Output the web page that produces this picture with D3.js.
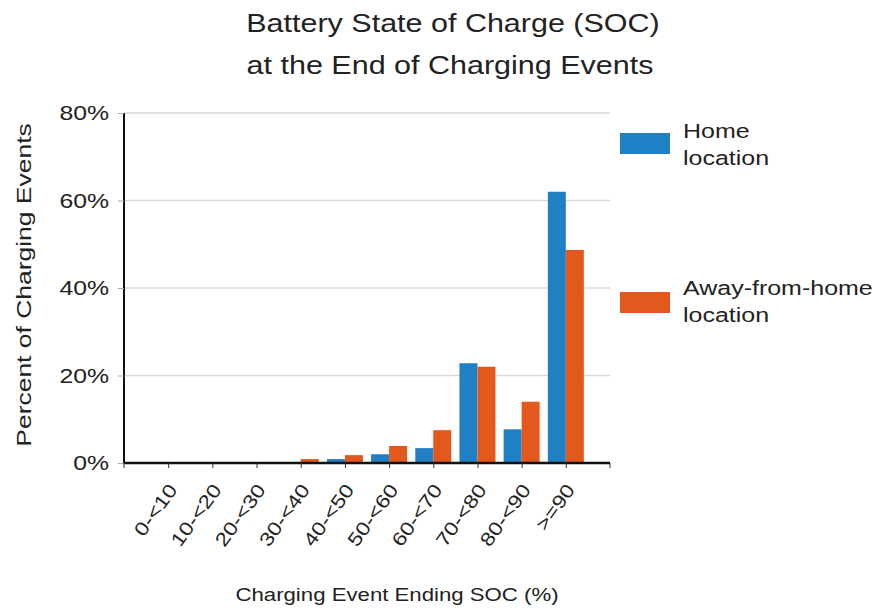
<!DOCTYPE html>
<html><head><meta charset="utf-8">
<script src="https://cdn.jsdelivr.net/npm/d3@7"></script>
<style>body{margin:0;background:#fff}text{font-family:"Liberation Sans",Arial,sans-serif;fill:#222}</style>
</head><body><svg id="c" width="883" height="613"></svg>
<script>
const categories=["0-<10","10-<20","20-<30","30-<40","40-<50","50-<60","60-<70","70-<80","80-<90",">=90"];
const homeValues=[0,0,0,0.1,0.9,2.0,3.4,22.8,7.7,62.0];
const awayValues=[0,0,0.1,0.9,1.8,3.9,7.5,22.0,14.0,48.7];
const yTicks=[0,20,40,60,80];
const seriesNames=["Home location","Away-from-home location"];
const colors=["#1f80c6","#e2581d"];

const svg=d3.select("#c");
const x0=124,x1=610,yB=463,yT=113;
const x=d3.scalePoint().domain(categories).range([x0,x1]).padding(1);
const y=d3.scaleLinear().domain([0,80]).range([yB,yT]);
const bw=18;
const SX=1.2;

// gridlines
svg.append("g").selectAll("line").data(yTicks.slice(1)).join("line")
  .attr("x1",x0).attr("x2",x1).attr("y1",d=>y(d)).attr("y2",d=>y(d))
  .attr("stroke","#d9d9d9").attr("stroke-width",1.5);

// bars
const series=[homeValues,awayValues];
series.forEach((vals,si)=>{
  svg.append("g").selectAll("rect").data(categories).join("rect")
    .attr("x",(d)=>x(d)+(si===0?-bw:0))
    .attr("width",bw)
    .attr("y",(d,i)=>y(vals[i]))
    .attr("height",(d,i)=>yB-y(vals[i]))
    .attr("fill",colors[si]);
});

// y axis
const ya=svg.append("g").attr("transform",`translate(${x0},0)`).call(d3.axisLeft(y).tickValues(yTicks).tickFormat("").tickSize(6));
ya.select(".domain").attr("stroke","#111").attr("stroke-width",2).attr("d",`M0,${yT}V${yB}`);
ya.selectAll(".tick line").attr("stroke","#aaa");
svg.append("g").selectAll("text").data(yTicks).join("text")
  .attr("transform",d=>`translate(${x0-15},${y(d)+7}) scale(1.24,1)`)
  .attr("text-anchor","end").style("font-size","20px").text(d=>d+"%");

// x axis
const xa=svg.append("g").attr("transform",`translate(0,${yB})`).call(d3.axisBottom(x).tickSize(5).tickSizeOuter(0).tickFormat(""));
xa.select(".domain").attr("stroke","#111").attr("stroke-width",2.5).attr("d",`M${x0},0H${x1}`);
xa.selectAll(".tick line").attr("stroke","#333");
[x0,x1].forEach(v=>svg.append("line").attr("x1",v).attr("x2",v).attr("y1",yB).attr("y2",yB+5).attr("stroke","#333"));
// rotated labels
svg.append("g").selectAll("text").data(categories).join("text")
  .attr("transform",d=>`translate(${x(d)+10},${yB+27}) rotate(-54) scale(${SX},1)`)
  .attr("text-anchor","end").style("font-size","19px").text(d=>d);

// titles
svg.append("text").attr("transform","translate(453,32) scale(1.22,1)").attr("text-anchor","middle").style("font-size","25px").text("Battery State of Charge (SOC)");
svg.append("text").attr("transform","translate(450,74) scale(1.22,1)").attr("text-anchor","middle").style("font-size","25px").text("at the End of Charging Events");
svg.append("text").attr("transform","translate(397,601) scale(1.2,1)").attr("text-anchor","middle").style("font-size","18.5px").text("Charging Event Ending SOC (%)");
svg.append("text").attr("transform","translate(31,285) rotate(-90) scale(1.26,1)").attr("text-anchor","middle").style("font-size","21px").text("Percent of Charging Events");

// legend
const leg=[{y:133,b:138,l1:"Home",l2:"location"},{y:292,b:295,l1:"Away-from-home",l2:"location"}];
leg.forEach((d,i)=>{
  svg.append("rect").attr("x",620).attr("y",d.y).attr("width",50).attr("height",21).attr("fill",colors[i]);
  svg.append("text").attr("transform",`translate(683,${d.b}) scale(1.25,1)`).style("font-size","20px").text(d.l1);
  svg.append("text").attr("transform",`translate(683,${d.b+27}) scale(1.25,1)`).style("font-size","20px").text(d.l2);
});
</script></body></html>
